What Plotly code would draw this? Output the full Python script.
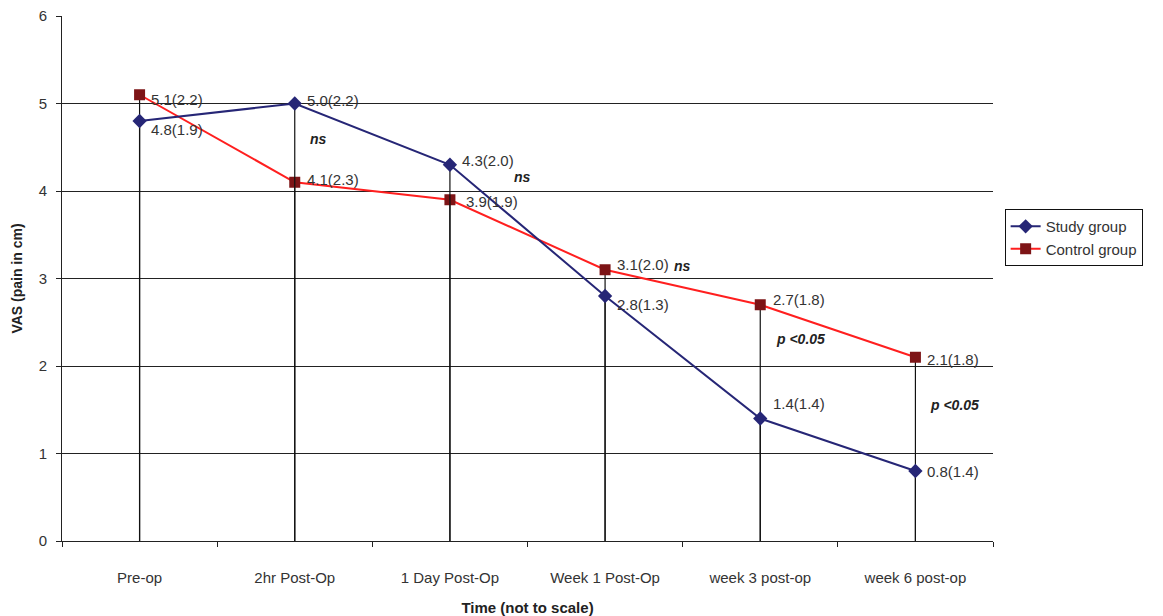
import plotly.graph_objects as go

# Time points (categorical, not to scale)
categories = ["Pre-op", "2hr Post-Op", "1 Day Post-Op", "Week 1 Post-Op",
              "week 3 post-op", "week 6 post-op"]

# Mean VAS (cm) and standard deviation per group
study_mean = [4.8, 5.0, 4.3, 2.8, 1.4, 0.8]
study_sd = [1.9, 2.2, 2.0, 1.3, 1.4, 1.4]
control_mean = [5.1, 4.1, 3.9, 3.1, 2.7, 2.1]
control_sd = [2.2, 2.3, 1.9, 2.0, 1.8, 1.8]

# Significance notes: (category, y, text)
sig_notes = [
    ("2hr Post-Op", 4.59, "ns"),
    ("1 Day Post-Op", 4.16, "ns"),
    ("Week 1 Post-Op", 3.14, "ns"),
    ("week 3 post-op", 2.31, "p <0.05"),
    ("week 6 post-op", 1.55, "p <0.05"),
]

NAVY = "#262676"
RED = "#ff1f1f"
DARKRED = "#7d1416"
TXT = "#333333"
FONT = "Liberation Sans, Arial, sans-serif"
FS = 15

fig = go.Figure()


def drop_lines(vals):
    # vertical line from the x axis up to each point
    return dict(type="data", symmetric=False, array=[0] * len(vals),
                arrayminus=vals, color="#111111", thickness=1.2, width=0)


fig.add_trace(go.Scatter(
    x=categories, y=control_mean, name="Control group", mode="lines+markers",
    line=dict(color=RED, width=2),
    marker=dict(symbol="square", size=11, color=DARKRED),
    error_y=drop_lines(control_mean),
))
fig.add_trace(go.Scatter(
    x=categories, y=study_mean, name="Study group", mode="lines+markers",
    line=dict(color=NAVY, width=2),
    marker=dict(symbol="diamond", size=11, color=NAVY),
    error_y=drop_lines(study_mean),
))

# Value labels "mean(sd)" placed next to each marker
study_offsets = [(9, -8), (10, 3), (10, 4), (10, -8), (11, 15), (10, 0)]
control_offsets = [(9, -5), (10, 3), (14, -2), (10, 5), (11, 5), (10, -2)]

annotations = []
for cat, m, s, (dx, dy) in zip(categories, study_mean, study_sd, study_offsets):
    annotations.append(dict(x=cat, y=m, text=f"{m:.1f}({s:.1f})", showarrow=False,
                            xanchor="left", yanchor="middle", xshift=dx, yshift=dy,
                            font=dict(family=FONT, size=FS, color=TXT)))
for cat, m, s, (dx, dy) in zip(categories, control_mean, control_sd, control_offsets):
    annotations.append(dict(x=cat, y=m, text=f"{m:.1f}({s:.1f})", showarrow=False,
                            xanchor="left", yanchor="middle", xshift=dx, yshift=dy,
                            font=dict(family=FONT, size=FS, color=TXT)))

note_shift = [24, 73, 77, 40, 39]
for (cat, y, txt), dx in zip(sig_notes, note_shift):
    annotations.append(dict(x=cat, y=y, text=f"<b><i>{txt}</i></b>", showarrow=False,
                            xanchor="center", yanchor="middle", xshift=dx,
                            font=dict(family=FONT, size=FS - 1, color="#222222")))

fig.update_layout(
    width=1163, height=616,
    margin=dict(l=62, r=170, t=16, b=75),
    paper_bgcolor="white", plot_bgcolor="white",
    font=dict(family=FONT, size=FS, color=TXT),
    showlegend=True,
    legend=dict(x=1.0125, y=0.578, xanchor="left", yanchor="middle",
                bordercolor="#111111", borderwidth=1, bgcolor="white",
                font=dict(family=FONT, size=FS, color=TXT),
                traceorder="reversed", tracegroupgap=0),
    annotations=annotations,
    xaxis=dict(
        type="category", categoryorder="array", categoryarray=categories,
        range=[-0.5, 5.5], automargin=False,
        showline=True, linecolor="#222222", linewidth=1,
        ticks="outside", tickson="boundaries", ticklen=5, tickcolor="#222222",
        showgrid=False, zeroline=False,
        ticklabelstandoff=23,
        tickfont=dict(family=FONT, size=FS, color=TXT),
        title=dict(text="<b>Time (not to scale)</b>", standoff=25,
                   font=dict(family=FONT, size=FS, color="#222222")),
    ),
    yaxis=dict(
        range=[0, 6], dtick=1, tick0=0, automargin=False,
        showline=True, linecolor="#222222", linewidth=1,
        ticks="outside", ticklen=5, tickcolor="#222222",
        showgrid=True, gridcolor="#222222", gridwidth=1, zeroline=False,
        ticklabelstandoff=6,
        tickfont=dict(family=FONT, size=FS, color=TXT),
        title=dict(text="<b>VAS (pain in cm)</b>", standoff=12,
                   font=dict(family=FONT, size=FS - 1, color="#222222")),
    ),
)

fig.write_html("out.html")
